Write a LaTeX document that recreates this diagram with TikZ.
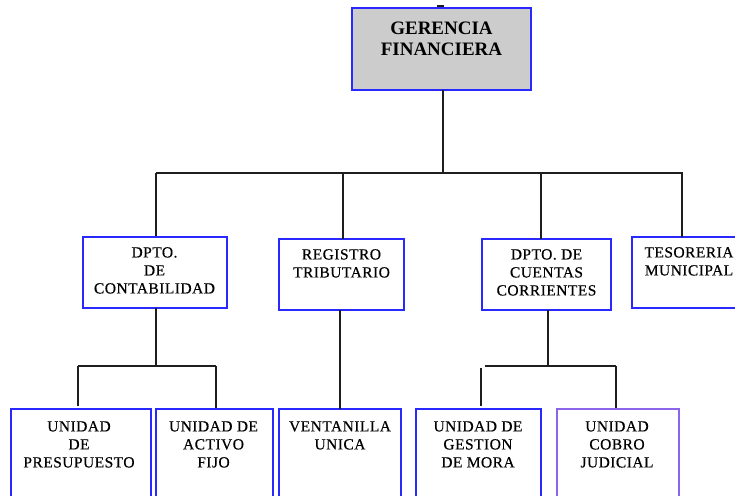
\documentclass[tikz,border=0pt]{standalone}
\usepackage{fontspec}
\setmainfont{Liberation Serif}
\newfontfamily\spaced[LetterSpace=3,FakeBold=0.4]{Liberation Serif}
\definecolor{bx}{RGB}{40,40,255}
\definecolor{pu}{RGB}{140,100,235}
\definecolor{gr}{RGB}{204,204,204}
\definecolor{ln}{RGB}{30,30,30}
\begin{document}
\begin{tikzpicture}[x=1pt,y=-1pt,
  box/.style={draw=bx,line width=1.8pt,inner sep=0pt,fill=white},
  txt/.style={font=\spaced\fontsize{15.5}{18}\selectfont,align=center,inner sep=0pt,anchor=north,text=black},
  conn/.style={draw=ln,line width=1.7pt}]
\useasboundingbox (0,0) rectangle (735,495);
\clip (0,0) rectangle (735,495);
\fill[white] (0,0) rectangle (735,495);

% top box
\node[box,fill=gr,minimum width=179pt,minimum height=82pt] (ger) at (441.5,49) {};
\node[font=\bfseries\fontsize{19}{21.6}\selectfont,align=center,inner sep=0pt,anchor=north] (gerT) at (441.5,21.5) {GERENCIA\\FINANCIERA};
\fill[ln] (437,5) rectangle (444,7);

% second level
\node[box,minimum width=144pt,minimum height=71pt] (cont) at (155,272.5) {};
\node[box,minimum width=125pt,minimum height=71pt] (reg) at (341.5,274.5) {};
\node[box,minimum width=129pt,minimum height=71pt] (cc) at (546.5,274.5) {};
\node[box,minimum width=128pt,minimum height=71pt] (tes) at (696,272.5) {};

\node[txt] (contT) at (154.5,247) {DPTO.\\DE\\CONTABILIDAD};
\node[txt] (regT) at (341.5,249) {REGISTRO\\TRIBUTARIO};
\node[txt] (ccT) at (546.5,249) {DPTO. DE\\CUENTAS\\CORRIENTES};
\node[txt] (tesT) at (689,247) {TESORERIA\\MUNICIPAL};

% third level
\node[box,minimum width=140pt,minimum height=111pt] (pre) at (81,464.5) {};
\node[box,minimum width=117pt,minimum height=111pt] (act) at (214.5,464.5) {};
\node[box,minimum width=122pt,minimum height=111pt] (ven) at (340,464.5) {};
\node[box,minimum width=125pt,minimum height=111pt] (ges) at (478.5,464.5) {};
\node[box,draw=pu,minimum width=122pt,minimum height=111pt] (cob) at (618,464.5) {};

\node[txt] (preT) at (79,421) {UNIDAD\\DE\\PRESUPUESTO};
\node[txt] (actT) at (213.5,421) {UNIDAD DE\\ACTIVO\\FIJO};
\node[txt] (venT) at (340,421) {VENTANILLA\\UNICA};
\node[txt] (gesT) at (478,421) {UNIDAD DE\\GESTION\\DE MORA};
\node[txt] (cobT) at (617,421) {UNIDAD\\COBRO\\JUDICIAL};

% bus coordinates
\coordinate (g0) at (443,90);
\coordinate (b0) at (443,173);
\coordinate (bL) at (156,173);
\coordinate (bR) at (683,173);
\coordinate (c0) at (156,366);
\coordinate (cL) at (78,366);
\coordinate (cR) at (216,366);
\coordinate (d0) at (548,366);
\coordinate (dL) at (485,366);
\coordinate (dR) at (616,366);
\coordinate (dLt) at (481,368);
\coordinate (cLb) at (78,406);
\coordinate (dLb) at (481,406);

% connectors
\draw[conn] (g0) -- (b0);
\draw[conn] (bL) -- (bR);
\draw[conn] (bL) -- (bL |- cont.north);
\draw[conn] (343,173) -- (343,239);
\draw[conn] (541,173) -- (541,239);
\draw[conn] (682,173) -- (682,237);

\draw[conn] (156,308) -- (c0);
\draw[conn] (cL) -- (cR);
\draw[conn] (cL) -- (cLb);
\draw[conn] (cR) -- (cR |- act.north);

\draw[conn] (340,310) -- (340,409);

\draw[conn] (548,310) -- (d0);
\draw[conn] (dL) -- (dR);
\draw[conn] (dLt) -- (dLb);
\draw[conn] (dR) -- (dR |- cob.north);
\end{tikzpicture}
\end{document}
